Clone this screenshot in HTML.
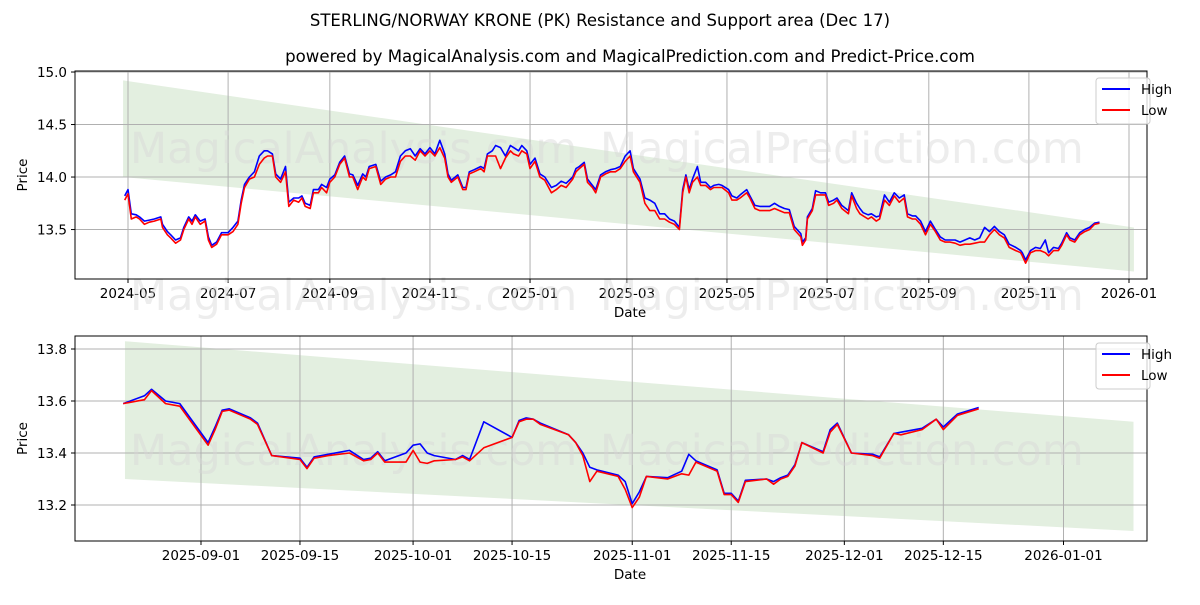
<!DOCTYPE html>
<html><head><meta charset="utf-8"><style>
body{margin:0;background:#fff;font-family:"Liberation Sans","DejaVu Sans",sans-serif}
svg text{font-family:"DejaVu Sans","Liberation Sans",sans-serif}
</style></head><body>
<svg id="chart" width="1200" height="600" viewBox="0 0 1200 600" xmlns="http://www.w3.org/2000/svg">
<rect width="1200" height="600" fill="#fff"/>
<text x="600" y="26" text-anchor="middle" font-size="16.5">STERLING/NORWAY KRONE (PK) Resistance and Support area (Dec 17)</text>
<text x="630" y="62" text-anchor="middle" font-size="16.6">powered by MagicalAnalysis.com and MagicalPrediction.com and Predict-Price.com</text>
<g id="top"></g>
<g id="bot"></g>
</svg>
<script>
// Top panel data: day offsets from 2024-05-01
const topDays=[-2,0,2,5,7,10,13,16,20,21,24,26,29,32,34,37,39,41,44,47,49,51,54,57,61,64,67,69,71,74,77,80,83,85,88,90,93,96,98,101,104,106,108,111,113,116,118,121,123,126,129,132,135,137,140,143,145,147,151,154,157,160,163,166,169,172,175,178,181,184,187,190,193,195,197,201,204,206,208,211,215,217,219,222,224,227,230,233,235,238,240,243,245,248,251,254,258,261,264,267,271,273,275,278,280,283,285,288,291,294,297,300,303,306,308,312,315,318,321,324,327,330,333,336,338,340,342,344,347,349,352,355,357,360,362,366,368,371,373,377,379,382,385,388,391,394,397,400,403,406,410,411,413,414,417,419,422,425,427,430,432,435,439,441,444,446,448,451,453,456,458,461,464,467,470,473,475,478,480,483,486,489,492,495,498,501,504,507,510,513,516,519,522,525,528,531,534,537,541,544,545,547,550,553,556,559,561,564,567,569,572,574,577,580,583,586,589,592];
const topLow=[13.78,13.84,13.6,13.62,13.6,13.55,13.57,13.58,13.6,13.52,13.45,13.42,13.37,13.4,13.5,13.6,13.55,13.62,13.55,13.58,13.4,13.33,13.36,13.45,13.45,13.48,13.55,13.75,13.9,13.98,14.0,14.12,14.18,14.2,14.2,14.0,13.95,14.05,13.72,13.78,13.76,13.8,13.72,13.7,13.85,13.85,13.9,13.85,13.95,14.0,14.12,14.18,14.0,14.0,13.88,14.0,13.97,14.08,14.1,13.93,13.98,14.0,14.0,14.15,14.2,14.2,14.16,14.25,14.2,14.25,14.2,14.28,14.18,14.0,13.95,14.0,13.88,13.88,14.03,14.05,14.08,14.05,14.2,14.2,14.2,14.08,14.18,14.25,14.22,14.2,14.25,14.22,14.08,14.15,14.0,13.97,13.85,13.88,13.92,13.9,13.98,14.05,14.08,14.12,13.95,13.9,13.85,14.0,14.03,14.05,14.05,14.08,14.15,14.2,14.05,13.95,13.75,13.68,13.68,13.6,13.6,13.57,13.55,13.5,13.85,14.0,13.85,13.95,14.0,13.92,13.92,13.88,13.9,13.9,13.9,13.85,13.78,13.78,13.8,13.85,13.8,13.7,13.68,13.68,13.68,13.7,13.68,13.66,13.66,13.5,13.43,13.35,13.4,13.6,13.68,13.83,13.83,13.83,13.73,13.75,13.78,13.7,13.65,13.82,13.7,13.65,13.63,13.6,13.62,13.58,13.6,13.78,13.73,13.82,13.76,13.8,13.62,13.6,13.6,13.55,13.45,13.55,13.48,13.4,13.38,13.38,13.37,13.35,13.36,13.36,13.37,13.38,13.38,13.45,13.5,13.45,13.42,13.33,13.3,13.28,13.25,13.18,13.28,13.3,13.3,13.28,13.25,13.3,13.3,13.35,13.45,13.4,13.38,13.45,13.48,13.5,13.55,13.56,13.58];
const topHigh=[13.82,13.88,13.65,13.64,13.62,13.58,13.59,13.6,13.62,13.55,13.48,13.45,13.4,13.42,13.52,13.62,13.58,13.64,13.58,13.6,13.43,13.35,13.38,13.47,13.47,13.52,13.58,13.78,13.93,14.0,14.05,14.2,14.25,14.25,14.22,14.03,13.98,14.1,13.76,13.8,13.8,13.82,13.75,13.73,13.88,13.88,13.93,13.9,13.98,14.02,14.14,14.2,14.03,14.02,13.92,14.03,14.0,14.1,14.12,13.96,14.0,14.02,14.05,14.2,14.25,14.27,14.2,14.27,14.22,14.28,14.22,14.35,14.22,14.03,13.97,14.02,13.9,13.9,14.05,14.07,14.1,14.08,14.22,14.25,14.3,14.28,14.2,14.3,14.28,14.25,14.3,14.25,14.12,14.18,14.03,14.0,13.9,13.92,13.96,13.94,14.0,14.08,14.1,14.14,13.98,13.92,13.88,14.02,14.05,14.07,14.08,14.1,14.2,14.25,14.08,13.98,13.8,13.78,13.75,13.65,13.65,13.6,13.58,13.52,13.88,14.02,13.88,13.98,14.1,13.95,13.95,13.9,13.92,13.93,13.92,13.88,13.82,13.8,13.83,13.88,13.82,13.73,13.72,13.72,13.72,13.75,13.72,13.7,13.69,13.53,13.46,13.38,13.42,13.62,13.7,13.87,13.85,13.85,13.76,13.78,13.8,13.73,13.68,13.85,13.75,13.7,13.66,13.64,13.65,13.62,13.63,13.83,13.76,13.85,13.8,13.83,13.65,13.63,13.63,13.58,13.48,13.58,13.5,13.43,13.4,13.4,13.4,13.38,13.4,13.42,13.4,13.42,13.52,13.48,13.53,13.48,13.45,13.36,13.33,13.3,13.28,13.21,13.3,13.33,13.32,13.4,13.28,13.33,13.32,13.37,13.47,13.42,13.4,13.47,13.5,13.52,13.56,13.57,13.59];
const topYTicks=[15.0,14.5,14.0,13.5];
const topXTickLabels=["2024-05","2024-07","2024-09","2024-11","2025-01","2025-03","2025-05","2025-07","2025-09","2025-11","2026-01"];
const topXTickDays=[0,61,123,184,245,304,365,426,488,549,610];
const topBandDays=[-3,613];
const topBandUpper=[14.92,13.52];
const topBandLower=[14.0,13.1];
// Bottom panel data: day offsets from 2025-09-01
const botDays=[-11,-8,-7,-5,-3,1,2,3,4,7,8,10,14,15,16,18,21,23,24,25,26,29,30,31,32,33,36,37,38,40,44,45,46,47,48,52,53,54,55,56,59,60,61,62,63,66,68,69,70,73,74,75,76,77,80,81,82,83,84,85,88,89,90,92,95,96,98,99,102,104,105,107,110];
const botLow=[13.59,13.605,13.64,13.59,13.58,13.43,13.49,13.56,13.565,13.53,13.51,13.39,13.375,13.34,13.38,13.39,13.4,13.37,13.375,13.4,13.365,13.365,13.41,13.365,13.36,13.37,13.375,13.385,13.37,13.42,13.46,13.52,13.53,13.53,13.51,13.47,13.44,13.39,13.29,13.33,13.31,13.26,13.19,13.23,13.31,13.3,13.32,13.315,13.365,13.33,13.24,13.24,13.21,13.29,13.3,13.28,13.3,13.31,13.35,13.44,13.4,13.48,13.51,13.4,13.39,13.38,13.475,13.47,13.49,13.53,13.49,13.545,13.57];
const botHigh=[13.59,13.62,13.645,13.6,13.59,13.44,13.5,13.565,13.57,13.535,13.515,13.39,13.38,13.345,13.385,13.395,13.41,13.375,13.38,13.405,13.37,13.4,13.43,13.435,13.4,13.39,13.375,13.39,13.375,13.52,13.46,13.525,13.535,13.53,13.515,13.47,13.44,13.4,13.345,13.335,13.315,13.29,13.205,13.25,13.31,13.305,13.33,13.395,13.37,13.335,13.245,13.245,13.215,13.295,13.3,13.29,13.305,13.315,13.355,13.44,13.405,13.49,13.515,13.4,13.395,13.385,13.475,13.48,13.495,13.53,13.5,13.55,13.575];
const botYTicks=[13.8,13.6,13.4,13.2];
const botXTickLabels=["2025-09-01","2025-09-15","2025-10-01","2025-10-15","2025-11-01","2025-11-15","2025-12-01","2025-12-15","2026-01-01"];
const botXTickDays=[0,14,30,44,61,75,91,105,122];
const botBandDays=[-10.75,131.9];
const botBandUpper=[13.83,13.52];
const botBandLower=[13.30,13.10];

const NS="http://www.w3.org/2000/svg";
function mk(parent,tag,attrs,text){const e=document.createElementNS(NS,tag);for(const k in attrs)e.setAttribute(k,attrs[k]);if(text!==undefined)e.textContent=text;parent.appendChild(e);return e;}

function panel(g,cfg){
  const L=75,R=1147,T=cfg.top,B=cfg.bottom;
  const xs=d=>L+(d-cfg.dmin)/(cfg.dmax-cfg.dmin)*(R-L);
  const ys=v=>B-(v-cfg.vmin)/(cfg.vmax-cfg.vmin)*(B-T);
  const bp=[[xs(cfg.bandDays[0]),ys(cfg.bandUpper[0])],[xs(cfg.bandDays[1]),ys(cfg.bandUpper[1])],[xs(cfg.bandDays[1]),ys(cfg.bandLower[1])],[xs(cfg.bandDays[0]),ys(cfg.bandLower[0])]];
  const band=mk(g,"polygon",{points:bp.map(p=>p.join(",")).join(" "),fill:"#e3efe0"});
  
  
  cfg.xTickDays.forEach((d,i)=>{
    const x=xs(d);
    const gl=mk(g,"line",{x1:x,x2:x,y1:T,y2:B,stroke:"#b0b0b0","stroke-width":1});
    
    
    mk(g,"line",{x1:x,x2:x,y1:B,y2:B+4,stroke:"#000"});
    const t=mk(g,"text",{x:x,y:B+19,"text-anchor":"middle","font-size":"13.5"},cfg.xTickLabels[i]);
    
    
  });
  cfg.yTicks.forEach(v=>{
    const y=ys(v);
    const gl=mk(g,"line",{x1:L,x2:R,y1:y,y2:y,stroke:"#b0b0b0","stroke-width":1});
    
    
    mk(g,"line",{x1:L-4,x2:L,y1:y,y2:y,stroke:"#000"});
    const t=mk(g,"text",{x:L-8,y:y+5,"text-anchor":"end","font-size":"13.5"},v.toFixed(1));
    
    
  });
  cfg.wm.forEach(w=>{
    const t=mk(g,"text",{x:w[0],y:w[1],"font-size":"43",fill:"#d8d8d8","fill-opacity":"0.45"},w[2]);
    
    
  });
  const path=(arr)=>cfg.days.map((d,i)=>(i?"L":"M")+xs(d).toFixed(1)+","+ys(arr[i]).toFixed(1)).join("");
  const hl=mk(g,"path",{d:path(cfg.high),fill:"none",stroke:"#0000ff","stroke-width":1.6,"stroke-linejoin":"round"});
  
  
  const ll=mk(g,"path",{d:path(cfg.low),fill:"none",stroke:"#ff0000","stroke-width":1.6,"stroke-linejoin":"round"});
  
  
  const fr=mk(g,"rect",{x:L,y:T,width:R-L,height:B-T,fill:"none",stroke:"#000","stroke-width":1});
  
  
  const xt=mk(g,"text",{x:630,y:B+38,"text-anchor":"middle","font-size":"13.5"},"Date");
  
  
  const yt=mk(g,"text",{x:0,y:0,"text-anchor":"middle","font-size":"13.5",transform:`translate(27,${(T+B)/2}) rotate(-90)`},"Price");
  
  
  const lg=mk(g,"g",{});
  
  
  const ly=T+7;
  mk(lg,"rect",{x:1096,y:ly,width:54,height:46,rx:3,fill:"#fff","fill-opacity":0.8,stroke:"#ccc"});
  [["High","#0000ff"],["Low","#ff0000"]].forEach((s,i)=>{
    const e=mk(lg,"g",{});
    
    
    mk(e,"line",{x1:1102,x2:1130,y1:ly+11+i*21,y2:ly+11+i*21,stroke:s[1],"stroke-width":2});
    mk(e,"text",{x:1141,y:ly+16+i*21,"font-size":"13.5"},s[0]);
  });
}
panel(document.getElementById("top"),{top:71,bottom:279,dmin:-32.3,dmax:620.97,vmin:13.0291,vmax:15.0097,
  days:topDays,low:topLow,high:topHigh,yTicks:topYTicks,xTickDays:topXTickDays,xTickLabels:topXTickLabels,
  bandDays:topBandDays,bandUpper:topBandUpper,bandLower:topBandLower,
  wm:[[130,163,"MagicalAnalysis.com"],[600,163,"MagicalPrediction.com"],[130,310,"MagicalAnalysis.com"],[600,310,"MagicalPrediction.com"]]});
panel(document.getElementById("bot"),{top:336,bottom:541,dmin:-17.82,dmax:133.81,vmin:13.0615,vmax:13.8500,
  days:botDays,low:botLow,high:botHigh,yTicks:botYTicks,xTickDays:botXTickDays,xTickLabels:botXTickLabels,
  bandDays:botBandDays,bandUpper:botBandUpper,bandLower:botBandLower,
  wm:[[130,465,"MagicalAnalysis.com"],[600,465,"MagicalPrediction.com"]]});
</script>
</body></html>
